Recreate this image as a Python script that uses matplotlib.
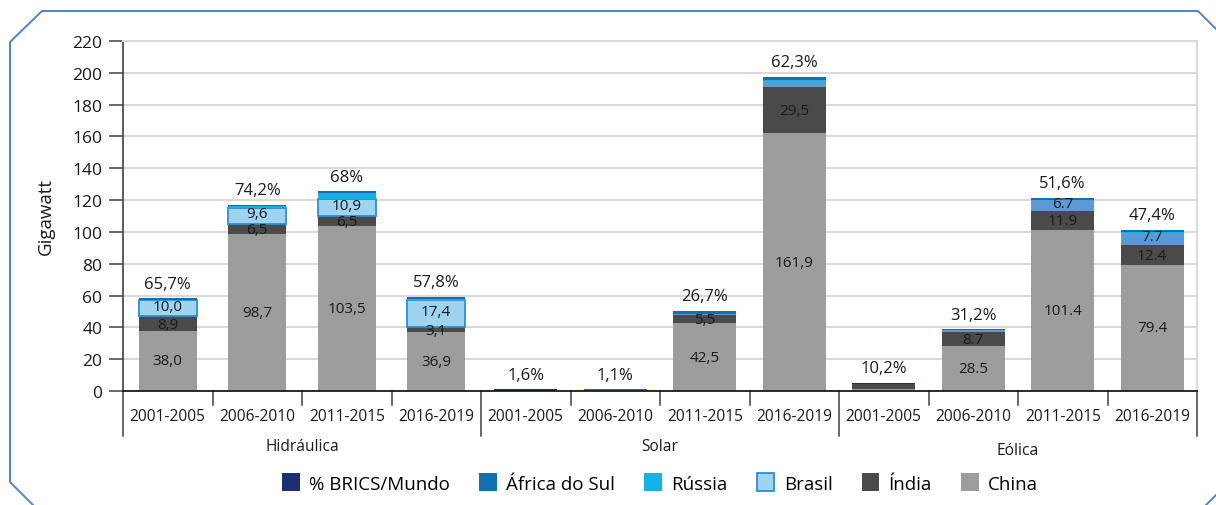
import matplotlib
matplotlib.use("Agg")
import matplotlib.pyplot as plt
from matplotlib.patches import Patch
from matplotlib.lines import Line2D
import matplotlib.transforms as mtransforms

plt.rcParams['font.family'] = ['Open Sans', 'DejaVu Sans']

# ---------------- data ----------------
groups = ["Hidráulica", "Solar", "Eólica"]
periods = ["2001-2005", "2006-2010", "2011-2015", "2016-2019"]

china = [38.0, 98.7, 103.5, 36.9, 0.0, 0.0, 42.5, 161.9, 1.0, 28.5, 101.4, 79.4]
india = [8.9, 6.5, 6.5, 3.1, 0.0, 0.0, 5.5, 29.5, 3.6, 8.7, 11.9, 12.4]
brasil = [10.0, 9.6, 10.9, 17.4, 0.0, 0.0, 0.3, 3.3, 0.0, 1.0, 6.7, 7.7]
russia = [0.5, 1.5, 3.8, 0.4, 0.0, 0.0, 0.2, 1.0, 0.0, 0.2, 0.3, 0.3]
africa = [0.8, 0.6, 0.8, 1.5, 0.0, 1.0, 1.8, 1.7, 0.0, 0.5, 1.2, 1.5]
brics = [0.0, 0.0, 0.0, 0.0, 1.0, 0.0, 0.0, 0.0, 0.5, 0.0, 0.0, 0.0]

china_lbl = ["38,0", "98,7", "103,5", "36,9", "", "", "42,5", "161,9", "", "28.5", "101.4", "79.4"]
india_lbl = ["8,9", "6,5", "6,5", "3,1", "", "", "5,5", "29,5", "", "8.7", "11.9", "12.4"]
brasil_lbl = ["10,0", "9,6", "10,9", "17,4", "", "", "", "", "", "", "6.7", "7.7"]
pct_lbl = ["65,7%", "74,2%", "68%", "57,8%", "1,6%", "1,1%", "26,7%", "62,3%",
           "10,2%", "31,2%", "51,6%", "47,4%"]

legend_names = ["% BRICS/Mundo", "África do Sul", "Rússia", "Brasil", "Índia", "China"]
yticks = [0, 20, 40, 60, 80, 100, 120, 140, 160, 180, 200, 220]

# ---------------- style ----------------
C_CHINA = "#9d9d9c"
C_INDIA = "#4a4a49"
C_BRASIL_H = "#9fd4f1"
C_BRASIL_EDGE = "#2a8fd4"
C_BRASIL = "#5b9bd5"
C_RUSSIA = "#15b1e6"
C_AFRICA = "#1170b0"
C_BRICS = "#1b2f72"
FRAME = "#4f82d2"

W, H = 1216, 506
fig = plt.figure(figsize=(W / 100, H / 100), dpi=100)
ax_l, ax_r, ax_t, ax_b = 123, 1197, 42, 392
ax = fig.add_axes([ax_l / W, 1 - ax_b / H, (ax_r - ax_l) / W, (ax_b - ax_t) / H])
axh = ax_b - ax_t

n = len(china)
x = list(range(n))
widths = [0.65 if i < 4 else 0.70 for i in x]
brasil_colors = [C_BRASIL_H if i < 4 else C_BRASIL for i in x]
brasil_edges = [C_BRASIL_EDGE if i < 4 else C_BRASIL for i in x]
brasil_lw = [1.3 if i < 4 else 0 for i in x]

bottom = [0.0] * n
series = [(china, C_CHINA, None, 0), (india, C_INDIA, None, 0),
          (brasil, brasil_colors, brasil_edges, brasil_lw),
          (russia, C_RUSSIA, None, 0), (africa, C_AFRICA, None, 0),
          (brics, C_BRICS, None, 0)]
bottoms = []
for vals, col, ec, lw in series:
    bottoms.append(list(bottom))
    ax.bar(x, vals, bottom=bottom, width=widths, color=col,
           edgecolor=ec if ec is not None else "none", linewidth=lw, zorder=3)
    bottom = [b + v for b, v in zip(bottom, vals)]
totals = bottom

# segment labels (small vertical nudges keep stacked labels apart)
for lbls, vals, bots, dy in [(china_lbl, china, bottoms[0], 0),
                             (india_lbl, india, bottoms[1], -0.5),
                             (brasil_lbl, brasil, bottoms[2], 1.5)]:
    for i in x:
        if lbls[i]:
            ax.annotate(lbls[i], (i, bots[i] + vals[i] / 2), xytext=(0, dy),
                        textcoords="offset points", ha="center", va="center",
                        fontsize=11, color="#1a1a1a", zorder=5)

# percent labels
for i in x:
    ax.annotate(pct_lbl[i], (i, totals[i]), xytext=(0, 10.5), textcoords="offset points",
                ha="center", va="center", fontsize=12, color="#1a1a1a", zorder=5)

ax.set_xlim(-0.5, n - 0.5)
ax.set_ylim(0, 220)
ax.set_yticks(yticks)
ax.yaxis.grid(True, color="#d9d9d9", linewidth=1.5)
ax.set_axisbelow(True)
ax.set_xticks([])
ax.tick_params(axis="y", direction="out", length=10, width=1.1, color="#404040",
               labelsize=12.5, pad=5, labelcolor="#1a1a1a")
for s in ["top", "right"]:
    ax.spines[s].set_color("#d9d9d9")
    ax.spines[s].set_linewidth(1.5)
ax.spines["left"].set_color("#404040")
ax.spines["left"].set_linewidth(1.2)
ax.spines["bottom"].set_color("#1a1a1a")
ax.spines["bottom"].set_linewidth(1.3)
ax.spines["bottom"].set_zorder(4)

ax.set_ylabel("Gigawatt", fontsize=13.5, color="#1a1a1a")
ax.yaxis.set_label_coords((55 - ax_l) / (ax_r - ax_l), 0.5)

# x-axis category labels and separators
trans = mtransforms.blended_transform_factory(ax.transData, ax.transAxes)
for i in x:
    ax.text(i, -25 / axh, periods[i % 4], transform=trans, ha="center", va="center",
            fontsize=11.2, color="#1a1a1a")
for k in range(n + 1):
    xpos = k - 0.5
    depth = 45 if k % 4 == 0 else 14
    ax.add_line(Line2D([xpos, xpos], [0, -depth / axh], transform=trans, color="#404040",
                       linewidth=1.1, clip_on=False))
group_y = [-55 / axh, -55 / axh, -59 / axh]
for g, name in enumerate(groups):
    ax.text(g * 4 + 1.5, group_y[g], name, transform=trans, ha="center", va="center",
            fontsize=11.2, color="#1a1a1a")

# legend
handles = [Patch(facecolor=C_BRICS), Patch(facecolor=C_AFRICA), Patch(facecolor=C_RUSSIA),
           Patch(facecolor=C_BRASIL_H, edgecolor=C_BRASIL_EDGE, linewidth=1.3),
           Patch(facecolor=C_INDIA), Patch(facecolor=C_CHINA)]
fig.legend(handles, legend_names, loc="center", bbox_to_anchor=(660 / W, 1 - 484 / H),
           ncol=6, frameon=False, fontsize=13.5, handlelength=0.95, handleheight=1.1,
           handletextpad=0.5, columnspacing=1.55)

# decorative frame
def px(pts):
    return [p[0] / W for p in pts], [1 - p[1] / H for p in pts]

for pts in [[(1216, 30), (1198, 12), (42, 12), (10, 43), (10, 483), (33, 506)],
            [(1206, 506), (1216, 496)]]:
    xs, ys = px(pts)
    fig.add_artist(Line2D(xs, ys, transform=fig.transFigure, color=FRAME, linewidth=1.4))

fig.savefig("out.png", dpi=100)
